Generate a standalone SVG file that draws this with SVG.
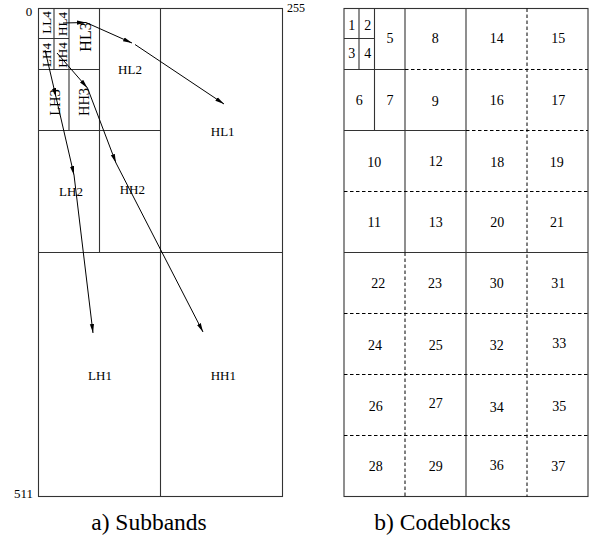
<svg xmlns="http://www.w3.org/2000/svg" width="591" height="539" viewBox="0 0 591 539" font-family="'Liberation Serif', 'Times New Roman', serif">
<defs>
<marker id="ah" markerWidth="10" markerHeight="6" refX="9" refY="3" orient="auto" markerUnits="userSpaceOnUse"><path d="M0,0.9 L9,3 L0,5.1 z" fill="#000"/></marker>
<style>
text{font-family:"Liberation Serif","Times New Roman",serif;fill:#000}
.s{fill:none;stroke:#333;stroke-width:1.1}
.d{fill:none;stroke:#000;stroke-width:1;stroke-dasharray:3.5,2.5}
.l13{font-size:13px;text-anchor:middle}
.n{font-size:14px;text-anchor:middle}
.r{text-anchor:middle}
.cap{font-size:23.5px;text-anchor:middle;font-family:"Liberation Serif","Times New Roman",serif}
.c{fill:none;stroke:#000;stroke-width:1;marker-end:url(#ah)}
</style>
</defs>
<rect width="591" height="539" fill="#fff"/>
<g id="subbands">
<rect class="s" x="38.5" y="8.5" width="244" height="488"/>
<path class="s" d="M160.5,8.5 V496.5 M38.5,252.5 H282.5 M99.5,8.5 V252.5 M38.5,130.5 H160.5 M69,8.5 V130.5 M38.5,69.5 H99.5 M54,8.5 V69.5 M38.5,38.5 H69"/>
<text x="29" y="16" font-size="13px" text-anchor="middle">0</text>
<text x="287" y="11.5" font-size="12px">255</text>
<text x="33" y="498" font-size="13px" text-anchor="end">511</text>
</g>
<g id="LL4"><text class="r" font-size="13px" transform="translate(47,22.5) rotate(-90)" dy="0.33em">LL4</text></g>
<g id="HL4"><text class="r" font-size="13px" transform="translate(63,24) rotate(-90)" dy="0.33em">HL4</text></g>
<g id="LH4"><text class="r" font-size="13px" transform="translate(47,55) rotate(-90)" dy="0.33em">LH4</text></g>
<g id="HH4"><text class="r" font-size="13px" transform="translate(63,55) rotate(-90)" dy="0.33em">HH4</text></g>
<g id="HL3"><text class="r" font-size="16px" transform="translate(86,37) rotate(-90)" dy="0.33em">HL3</text></g>
<g id="LH3"><text class="r" font-size="14.5px" transform="translate(55,102.5) rotate(-90)" dy="0.33em">LH3</text></g>
<g id="HH3"><text class="r" font-size="14.5px" transform="translate(84,102) rotate(-90)" dy="0.33em">HH3</text></g>
<g id="HL2"><text class="l13" x="130" y="74">HL2</text></g>
<g id="HL1"><text class="l13" x="222.7" y="136">HL1</text></g>
<g id="LH2"><text class="l13" x="71" y="196">LH2</text></g>
<g id="HH2"><text class="l13" x="132.3" y="194.3">HH2</text></g>
<g id="LH1"><text class="l13" x="100" y="380">LH1</text></g>
<g id="HH1"><text class="l13" x="223.3" y="380">HH1</text></g>
<g id="connectors">
<path class="c" d="M63,23 L86,22.5"/>
<path class="c" d="M86,22.5 L132,43"/>
<path class="c" d="M135,44.5 L224,104"/>
<path class="c" d="M45,50 L56,97"/>
<path class="c" d="M56,97 L74,175"/>
<path class="c" d="M74,175 L93,333"/>
<path class="c" d="M57,53 L87.5,88"/>
<path class="c" d="M87.5,88 L116,163"/>
<path class="c" d="M116,163 L203,332"/>
</g>
<g id="codeblocks">
<rect class="s" x="344" y="8.5" width="244" height="488"/>
<path class="s" d="M466,8.5 V496.5 M405,8.5 V252.5 M374.5,8.5 V130.5 M359,8.5 V69.5 M344,38.5 H374.5 M344,69.5 H405 M344,130.5 H466 M344,252.5 H588"/>
<path class="d" d="M527,8.5 V496.5 M405,252.5 V496.5 M405,69.5 H588 M466,130.5 H588 M344,191.5 H588 M344,313.5 H588 M344,374.5 H588 M344,435.5 H588"/>
</g>
<g id="cb1"><text class="n" x="351.7" y="30">1</text></g>
<g id="cb2"><text class="n" x="367.7" y="30">2</text></g>
<g id="cb3"><text class="n" x="351.7" y="58">3</text></g>
<g id="cb4"><text class="n" x="367.7" y="58">4</text></g>
<g id="cb5"><text class="n" x="390" y="43">5</text></g>
<g id="cb8"><text class="n" x="435.3" y="43">8</text></g>
<g id="cb14"><text class="n" x="496.7" y="43">14</text></g>
<g id="cb15"><text class="n" x="558.3" y="43">15</text></g>
<g id="cb6"><text class="n" x="359.3" y="104.7">6</text></g>
<g id="cb7"><text class="n" x="390" y="104.7">7</text></g>
<g id="cb9"><text class="n" x="435.3" y="106.4">9</text></g>
<g id="cb16"><text class="n" x="496.7" y="104.7">16</text></g>
<g id="cb17"><text class="n" x="558.3" y="104.7">17</text></g>
<g id="cb10"><text class="n" x="374.3" y="167.4">10</text></g>
<g id="cb12"><text class="n" x="435.7" y="166.4">12</text></g>
<g id="cb18"><text class="n" x="497.3" y="166.7">18</text></g>
<g id="cb19"><text class="n" x="556.7" y="166.7">19</text></g>
<g id="cb11"><text class="n" x="374.3" y="227.4">11</text></g>
<g id="cb13"><text class="n" x="435.7" y="227.4">13</text></g>
<g id="cb20"><text class="n" x="497.3" y="227.4">20</text></g>
<g id="cb21"><text class="n" x="557" y="227.4">21</text></g>
<g id="cb22"><text class="n" x="378.3" y="288">22</text></g>
<g id="cb23"><text class="n" x="435" y="288">23</text></g>
<g id="cb30"><text class="n" x="496.7" y="288">30</text></g>
<g id="cb31"><text class="n" x="558.3" y="288">31</text></g>
<g id="cb24"><text class="n" x="375" y="349.7">24</text></g>
<g id="cb25"><text class="n" x="435.7" y="349.7">25</text></g>
<g id="cb32"><text class="n" x="496.7" y="349.7">32</text></g>
<g id="cb33"><text class="n" x="559.3" y="348">33</text></g>
<g id="cb26"><text class="n" x="375.7" y="410.7">26</text></g>
<g id="cb27"><text class="n" x="435.7" y="408">27</text></g>
<g id="cb34"><text class="n" x="496.7" y="412">34</text></g>
<g id="cb35"><text class="n" x="559.3" y="410.7">35</text></g>
<g id="cb28"><text class="n" x="375.7" y="471.4">28</text></g>
<g id="cb29"><text class="n" x="435.7" y="471.4">29</text></g>
<g id="cb36"><text class="n" x="496.7" y="469.7">36</text></g>
<g id="cb37"><text class="n" x="558.3" y="471.4">37</text></g>
<g id="captions">
<text class="cap" x="149" y="530">a) Subbands</text>
<text class="cap" x="442.5" y="530">b) Codeblocks</text>
</g>
</svg>
